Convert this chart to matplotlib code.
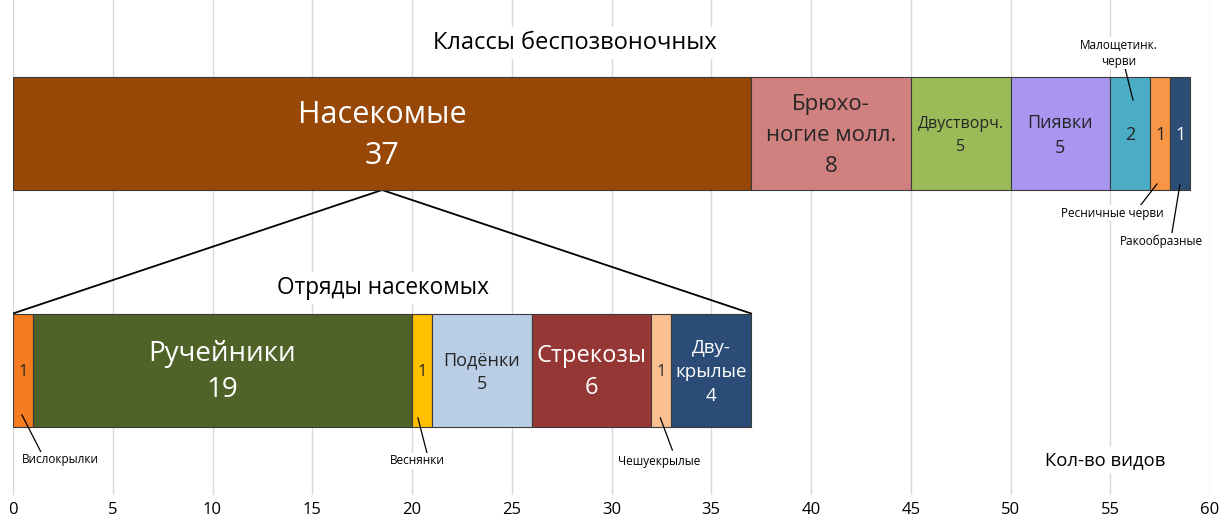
import matplotlib
matplotlib.use('Agg')
from matplotlib import pyplot as plt

# classes of invertebrates (top bar)
class_names = ['Насекомые', 'Брюхоногие моллюски', 'Двустворчатые', 'Пиявки',
               'Малощетинковые черви', 'Ресничные черви', 'Ракообразные']
class_counts = [37, 8, 5, 5, 2, 1, 1]
class_labels = ['Насекомые\n37', 'Брюхо-\nногие молл.\n8', 'Двустворч.\n5', 'Пиявки\n5', '2', '1', '1']

# insect orders (bottom bar)
order_names = ['Вислокрылки', 'Ручейники', 'Веснянки', 'Подёнки', 'Стрекозы',
               'Чешуекрылые', 'Двукрылые']
order_counts = [1, 19, 1, 5, 6, 1, 4]
order_labels = ['1', 'Ручейники\n19', '1', 'Подёнки\n5', 'Стрекозы\n6', '1', 'Дву-\nкрылые\n4']

x_ticks = list(range(0, 61, 5))

class_colors = ['#974806', '#D0807F', '#9BBB59', '#A996F0', '#4BACC6', '#F79646', '#2C4D75']
class_txt = ['white', '#262626', '#262626', '#262626', '#262626', '#262626', 'white']
class_fs = [22, 16, 11.5, 13, 13, 13, 13]
class_ls = [1.5, 1.6, 1.55, 1.55, 1, 1, 1]

order_colors = ['#F47B20', '#4F6228', '#FFC000', '#B9CDE5', '#953735', '#FAC090', '#2B4C77']
order_txt = ['#262626', 'white', '#262626', '#262626', 'white', '#262626', 'white']
order_fs = [12, 20, 12, 13, 17, 12, 13.5]
order_ls = [1, 1.35, 1, 1.4, 1.4, 1, 1.45]

plt.rcParams['font.family'] = ['Open Sans', 'DejaVu Sans']

fig = plt.figure(figsize=(12.22, 5.19), dpi=100)
ax = fig.add_axes([13 / 1222, 24 / 519, 1197 / 1222, 495 / 519])
ax.set_xlim(0, 60)
ax.set_ylim(495, 0)

TOP_Y, BOT_Y, H = 133.5, 370, 113

def draw_bar(y, counts, colors, labels, txtc, fss, lss):
    left = 0
    for c, col, lab, tc, fs, ls in zip(counts, colors, labels, txtc, fss, lss):
        ax.barh(y, c, left=left, height=H, color=col, edgecolor='#3a3a3a',
                linewidth=0.8, zorder=3)
        ax.text(left + c / 2, y + 2, lab, ha='center', va='center', color=tc,
                fontsize=fs, linespacing=ls, zorder=4)
        left += c

draw_bar(TOP_Y, class_counts, class_colors, class_labels, class_txt, class_fs, class_ls)
draw_bar(BOT_Y, order_counts, order_colors, order_labels, order_txt, order_fs, order_ls)

# zoom lines from the insect segment to the orders bar
mid = class_counts[0] / 2
ax.plot([mid, 0], [TOP_Y + H / 2, BOT_Y - H / 2], color='black', lw=1.3, zorder=2)
ax.plot([mid, sum(order_counts)], [TOP_Y + H / 2, BOT_Y - H / 2], color='black', lw=1.3, zorder=2)

box = dict(facecolor='white', edgecolor='none', pad=3)
ax.text(28.15, 43, 'Классы беспозвоночных', ha='center', va='center', fontsize=17,
        bbox=box, zorder=2)
ax.text(18.55, 288, 'Отряды насекомых', ha='center', va='center', fontsize=16.3,
        bbox=box, zorder=2)
ax.text(54.74, 460, 'Кол-во видов', ha='center', va='center', fontsize=13.3,
        bbox=box, zorder=2)

# small callouts
def callout(text, xy, xytext, lab_xy):
    ax.plot([xy[0], xytext[0]], [xy[1], xytext[1]], color='black', lw=0.9, zorder=5)
    ax.text(lab_xy[0], lab_xy[1], text, ha='center', va='center', fontsize=8.5,
            linespacing=1.3, zorder=5,
            bbox=dict(facecolor='white', edgecolor='none', pad=1))

callout('Малощетинк.\nчерви', (56.14, 100), (55.74, 68), (55.44, 53))
callout('Ресничные черви', (57.34, 184), (56.49, 206), (55.09, 213))
callout('Ракообразные', (58.49, 185), (58.09, 233), (57.55, 241))
callout('Вислокрылки', (0.45, 415), (1.4, 452), (2.35, 460))
callout('Веснянки', (20.3, 418), (20.75, 453), (20.25, 461))
callout('Чешуекрылые', (32.45, 418), (33.05, 450), (32.4, 461))

ax.set_xticks(x_ticks)
ax.set_yticks([])
ax.grid(axis='x', color='#D9D9D9', lw=1, zorder=0)
ax.tick_params(axis='x', length=0, pad=5, labelsize=12)
for s in ax.spines.values():
    s.set_visible(False)

fig.savefig('out.png', dpi=100)
